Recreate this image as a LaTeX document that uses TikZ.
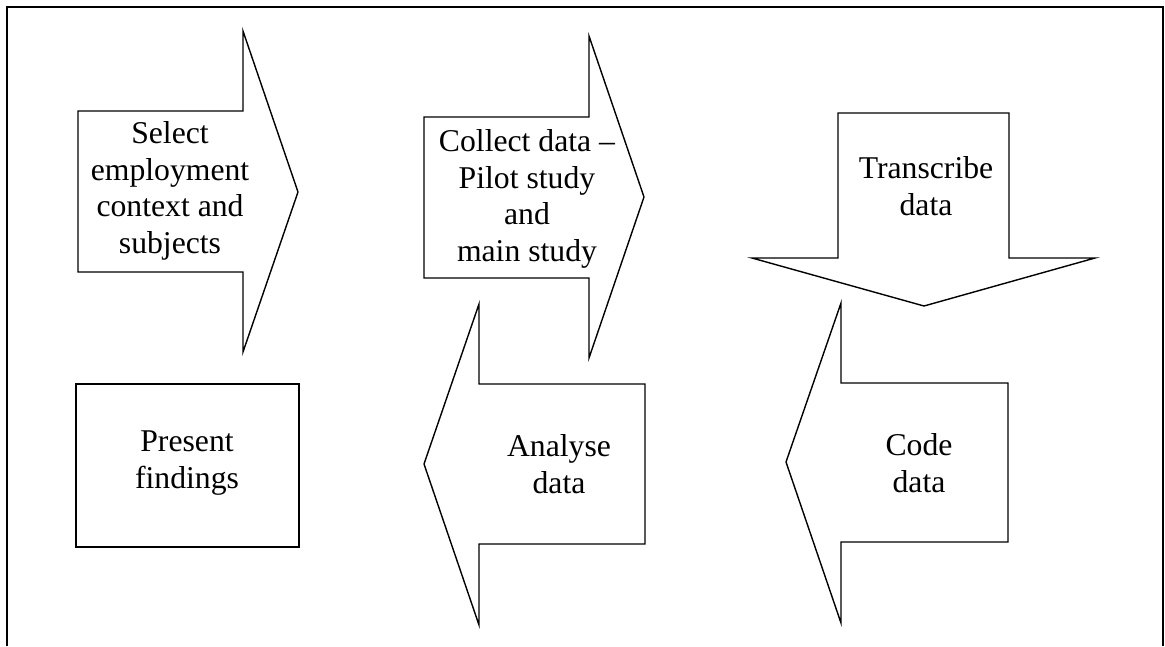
\documentclass[tikz,border=0pt]{standalone}
\usepackage{fontspec}
\setmainfont{Liberation Serif}
\usepackage{tikz}

\tikzset{
  stepshape/.style={draw=black,line width=1.4pt,line join=miter,fill=white},
  steptext/.style={align=center,inner sep=0pt,font=\fontsize{31.7}{36.5}\selectfont}
}

\begin{document}
\begin{tikzpicture}[x=1pt,y=-1pt]
  \useasboundingbox (0,0) rectangle (1165,646);
  % open frame
  \draw[line width=1.8pt] (7,646) -- (7,7) -- (1163,7) -- (1163,646);
  % top row
  \draw[stepshape] (78,111) -- (243,111) -- (243,31) -- (298,192) -- (243,352) -- (243,272) -- (78,272) -- cycle;
  \node[steptext] (select) at (170,191) {Select\\employment\\context and\\subjects};
  \draw[stepshape] (424,117) -- (589,117) -- (589,36) -- (644,197) -- (589,358) -- (589,278) -- (424,278) -- cycle;
  \node[steptext] (collect) at (527,199) {Collect data --\\Pilot study\\and\\main study};
  \draw[stepshape] (838,113) -- (1009,113) -- (1009,258) -- (1095,258) -- (924,306) -- (752,258) -- (838,258) -- cycle;
  \node[steptext] (transcribe) at (926,186) {Transcribe\\data};
  % bottom row
  \draw[stepshape] (76,384) rectangle (299,547);
  \node[steptext] (present) at (187,463) {Present\\findings};
  \draw[stepshape] (645,384) -- (479,384) -- (479,304) -- (424,464) -- (479,625) -- (479,544) -- (645,544) -- cycle;
  \node[steptext] (analyse) at (559,464) {Analyse\\data};
  \draw[stepshape] (1008,383) -- (841,383) -- (841,303) -- (786,462) -- (841,623) -- (841,542) -- (1008,542) -- cycle;
  \node[steptext] (code) at (919,463) {Code\\data};
\end{tikzpicture}
\end{document}
